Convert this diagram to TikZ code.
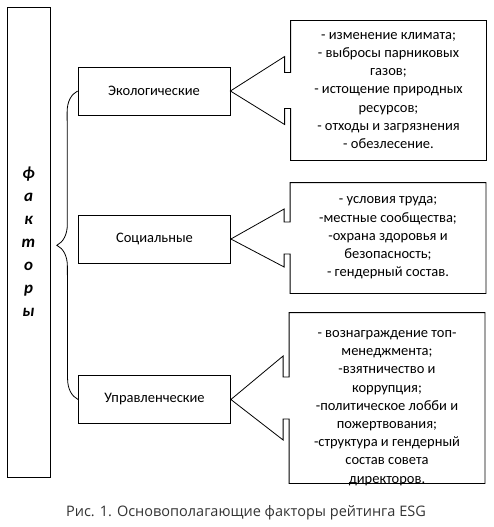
\documentclass[tikz,border=0pt]{standalone}
\usepackage{fontspec}
\setmainfont{Carlito}
\newfontfamily\capfont{Open Sans}
\usepackage{xcolor}
\usepackage{tikz}
\usetikzlibrary{positioning,calc,decorations.pathreplacing}

\begin{document}
\begin{tikzpicture}[x=1pt,y=-1pt,line width=0.8pt,
  kind/.style={draw,minimum width=152pt,minimum height=48pt,inner sep=2pt,font=\fontsize{14.5}{18}\selectfont},
  body/.style={minimum width=195pt,inner sep=0pt},
  items/.style={align=center,inner sep=0pt,font=\fontsize{14.5}{18.2}\selectfont}]
  \useasboundingbox (0,0) rectangle (494,527);
  % left column
  \node[draw,minimum width=43pt,minimum height=470pt,align=center,font=\fontsize{17}{23}\selectfont\bfseries\itshape] (fak) at (28.5,242) {ф\\а\\к\\т\\о\\р\\ы};
  % groups
  \node[kind] (eco) at (154,91) {Экологические};
  \node[kind] (soc) at (154.5,239) {Социальные};
  \node[kind] (upr) at (154.5,399.5) {Управленческие};
  \draw[decorate,decoration={brace,amplitude=21pt}] (upr.west) -- (eco.west);
  % callout bodies
  \node[body,minimum height=139pt] (ceco) at (388.5,90.5) {};
  \node[body,minimum height=110pt] (csoc) at (388,238) {};
  \node[body,minimum height=170pt] (cupr) at (387,398) {};
  \node[items] (teco) at (ceco.center) {- изменение климата;\\- выбросы парниковых\\газов;\\- истощение природных\\ресурсов;\\- отходы и загрязнения\\- обезлесение.};
  \node[items] (tsoc) at (csoc.center) {- условия труда;\\-местные сообщества;\\-охрана здоровья и\\безопасность;\\- гендерный состав.};
  \node[items] (tupr) at ([yshift=-10pt]cupr.center) {- вознаграждение топ-\\менеджмента;\\-взятничество и\\коррупция;\\-политическое лобби и\\пожертвования;\\-структура и гендерный\\состав совета\\директоров.};
  % callout arrows
  \draw (eco.east) -- ([xshift=-6pt,yshift=34pt]ceco.west) -- ([xshift=-6pt,yshift=18pt]ceco.west) -- ([yshift=18pt]ceco.west) -- (ceco.north west) -- (ceco.north east) -- (ceco.south east) -- (ceco.south west) -- ([yshift=-18pt]ceco.west) -- ([xshift=-6pt,yshift=-18pt]ceco.west) -- ([xshift=-6pt,yshift=-34pt]ceco.west) -- cycle;
  \draw (soc.east) -- ([xshift=-6pt,yshift=29pt]csoc.west) -- ([xshift=-6pt,yshift=16pt]csoc.west) -- ([yshift=16pt]csoc.west) -- (csoc.north west) -- (csoc.north east) -- (csoc.south east) -- (csoc.south west) -- ([yshift=-16pt]csoc.west) -- ([xshift=-6pt,yshift=-16pt]csoc.west) -- ([xshift=-6pt,yshift=-29pt]csoc.west) -- cycle;
  \draw (upr.east) -- ([xshift=-6pt,yshift=42pt]cupr.west) -- ([xshift=-6pt,yshift=21pt]cupr.west) -- ([yshift=21pt]cupr.west) -- (cupr.north west) -- (cupr.north east) -- (cupr.south east) -- (cupr.south west) -- ([yshift=-21pt]cupr.west) -- ([xshift=-6pt,yshift=-21pt]cupr.west) -- ([xshift=-6pt,yshift=-42pt]cupr.west) -- cycle;
  % caption
  \node[font=\capfont\fontsize{14.5}{16}\selectfont,text=black!80] (cap) at (246,513) {Рис. 1. Основополагающие факторы рейтинга ESG};
\end{tikzpicture}
\end{document}
